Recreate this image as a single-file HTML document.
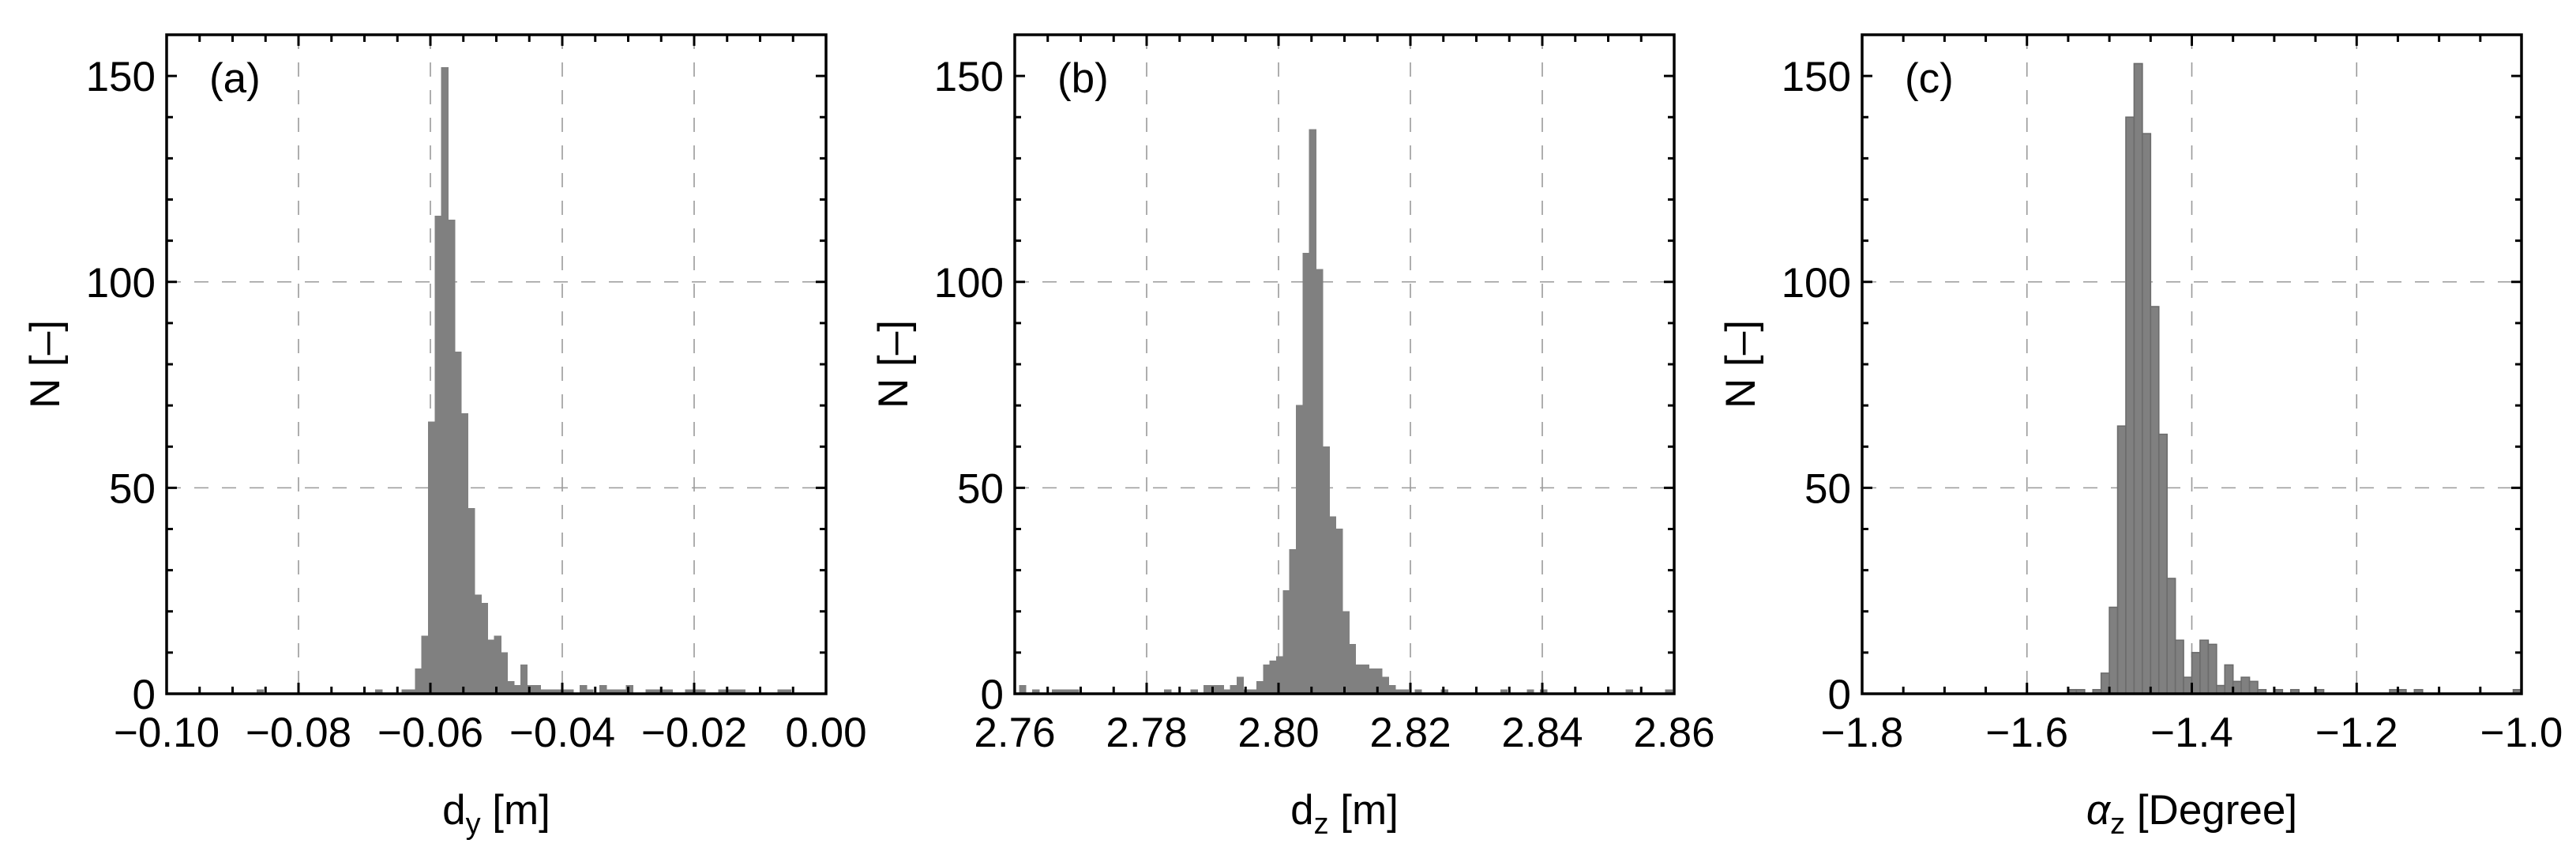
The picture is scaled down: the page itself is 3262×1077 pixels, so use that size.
<!DOCTYPE html>
<html><head><meta charset="utf-8">
<style>
html,body{margin:0;padding:0;background:#fff;}
svg{display:block;font-family:"Liberation Sans",Arial,sans-serif;}
</style></head>
<body>
<svg id="fig" width="3262" height="1077" viewBox="0 0 3262 1077" xmlns="http://www.w3.org/2000/svg"></svg>
<script>
// ---- Panel (a): d_y histogram ----
const aBinStart = -0.0863;
const aBinWidth = 0.001;
const aCounts = [1,0,0,0,0,0,0,0,0,0,0,0,0,0,0,0,0,0,1,0,0,0,1,1,
  6,14,66,116,152,115,83,68,45,24,22,13,14,10,3,2,7,2,2,1,
  1,1,1,1,0,2,1,0,2,1,1,1,2,0,0,1,1,1,1,0,0,1,1,1,0,0,1,1,1,1,0,0,0,0,0,1,1,0];
const aTicks = [-0.10,-0.08,-0.06,-0.04,-0.02,0.00];
const aTickLabels = ["\u22120.10","\u22120.08","\u22120.06","\u22120.04","\u22120.02","0.00"];
// ---- Panel (b): d_z histogram ----
const bBinStart = 2.7607;
const bBinWidth = 0.001;
const bCounts = [2,0,1,0,0,1,1,1,1,0,0,0,0,0,0,0,0,0,0,0,0,0,1,0,0,0,1,0,2,2,2,1,2,4,1,1,3,
  7,8,9,25,35,70,107,137,103,60,43,40,20,12,7,7,6,6,4,2,1,1,0,1,0,0,0,1,0,0,0,0,0,0,0,0,1,
  0,0,0,1,0,1,0,0,0,0,0,0,0,0,0,0,0,0,1,0,0,0,0,0,1];
const bTicks = [2.76,2.78,2.80,2.82,2.84,2.86];
const bTickLabels = ["2.76","2.78","2.80","2.82","2.84","2.86"];
// ---- Panel (c): alpha_z histogram ----
const cBinStart = -1.55;
const cBinWidth = 0.01;
const cCounts = [1,1,0,1,5,21,65,140,153,136,94,63,28,13,4,10,13,12,2,7,3,4,3,1,0,1,0,1,0,0,1,
  0,0,0,0,0,0,0,0,1,1,0,1,0,0,0,0,0,0,0,0,0,0,0,1];
const cTicks = [-1.8,-1.6,-1.4,-1.2,-1.0];
const cTickLabels = ["\u22121.8","\u22121.6","\u22121.4","\u22121.2","\u22121.0"];
// shared y axis
const yTicks = [0,50,100,150];
const yTickLabels = ["0","50","100","150"];

const NS = "http://www.w3.org/2000/svg";
const svg = document.getElementById('fig');
function mk(tag, attrs, parent){
  const e = document.createElementNS(NS, tag);
  for (const k in attrs) e.setAttribute(k, attrs[k]);
  (parent||svg).appendChild(e);
  return e;
}
const TOP = 44, BOT = 878, W = 835, YMAX = 160;

function panel(opts){
  const L = opts.left, R = L + W;
  const xs = v => L + (v - opts.xmin) / (opts.xmax - opts.xmin) * W;
  const ys = c => BOT - c / YMAX * (BOT - TOP);
  const g = mk('g', {});
  
  
  const grid = mk('g', {stroke:'#9a9a9a','stroke-width':1.6,'stroke-dasharray':'18,17',fill:'none'}, g);
  
  
  opts.grid.forEach(v => { mk('line',{x1:xs(v),x2:xs(v),y1:TOP,y2:BOT},grid); });
  [50,100].forEach(v => { mk('line',{x1:L,x2:R,y1:ys(v),y2:ys(v)},grid); });
  const bars = mk('g', {fill:'#808080'}, g);
  
  
  opts.counts.forEach((c, i) => {
    if (c <= 0) return;
    let x0 = xs(opts.start + i * opts.width), x1 = xs(opts.start + (i + 1) * opts.width);
    x0 = Math.max(x0, L); x1 = Math.min(x1, R);
    if (x1 <= x0) return;
    const r = mk('rect', {x:x0, y:ys(c), width:x1-x0, height:BOT-ys(c)}, bars);
    if (opts.outline){ r.setAttribute('stroke','#6c6c6c'); r.setAttribute('stroke-width','1.6'); }
    else { r.setAttribute('stroke','#808080'); r.setAttribute('stroke-width','1'); r.setAttribute('shape-rendering','crispEdges'); }
    
    
  });
  const tk = mk('g', {stroke:'#000','stroke-width':3}, g);
  
  
  const nMinor = Math.round((opts.xmax - opts.xmin) / opts.minor);
  for (let k = 0; k <= nMinor; k++){
    const v = opts.xmin + k * opts.minor;
    const major = Math.abs(((v - opts.xmin) / opts.major) - Math.round((v - opts.xmin) / opts.major)) < 1e-6;
    const len = major ? 14 : 9;
    const x = xs(v);
    mk('line',{x1:x,x2:x,y1:BOT,y2:BOT-len},tk);
    mk('line',{x1:x,x2:x,y1:TOP,y2:TOP+len},tk);
  }
  for (let c = 0; c <= YMAX; c += 10){
    const len = (c % 50 === 0) ? 13 : 8;
    const y = ys(c);
    mk('line',{x1:L,x2:L+len,y1:y,y2:y},tk);
    mk('line',{x1:R,x2:R-len,y1:y,y2:y},tk);
  }
  const fr = mk('rect',{x:L,y:TOP,width:W,height:BOT-TOP,fill:'none',stroke:'#000','stroke-width':3.5},g);
  
  
  opts.ticks.forEach((v, i) => {
    const t = mk('text',{x:xs(v), y:945, 'font-size':53, 'text-anchor':'middle', fill:'#000'}, g);
    t.textContent = opts.tickLabels[i];
    
    
  });
  yTicks.forEach((v, i) => {
    const t = mk('text',{x:L-14, y:ys(v)+19, 'font-size':53, 'text-anchor':'end', fill:'#000'}, g);
    t.textContent = yTickLabels[i];
    
    
  });
  const yt = mk('text',{x:0, y:0, 'font-size':53, 'text-anchor':'middle', fill:'#000',
    transform:`translate(${L-136},${(TOP+BOT)/2}) rotate(-90)`}, g);
  yt.textContent = 'N [\u2013]';
  
  
  const xt = mk('text',{x:L+W/2, y:1043, 'font-size':53, 'text-anchor':'middle', fill:'#000'}, g);
  
  
  opts.xlabel(xt);
  const pl = mk('text',{x:L+54, y:117, 'font-size':53, fill:'#000'}, g);
  pl.textContent = opts.letter;
  
  
}
function sub(el, main, s, italicMain){
  const a = mk('tspan', {}, el); a.textContent = main;
  if (italicMain) a.setAttribute('font-style','italic');
  const b = mk('tspan', {'font-size':38, dy:12}, el); b.textContent = s;
  const c = mk('tspan', {dy:-12}, el); c.textContent = ' [' ;
  return c;
}
panel({name:'panel-a', left:211, xmin:-0.10, xmax:0.0, grid:[-0.08,-0.06,-0.04,-0.02],
  minor:0.005, major:0.02, counts:aCounts, start:aBinStart, width:aBinWidth,
  ticks:aTicks, tickLabels:aTickLabels, letter:'(a)', outline:false,
  xlabel: el => { const c = sub(el,'d','y',false); c.textContent = ' [m]'; }});
panel({name:'panel-b', left:1285, xmin:2.76, xmax:2.86, grid:[2.78,2.80,2.82,2.84],
  minor:0.005, major:0.02, counts:bCounts, start:bBinStart, width:bBinWidth,
  ticks:bTicks, tickLabels:bTickLabels, letter:'(b)', outline:false,
  xlabel: el => { const c = sub(el,'d','z',false); c.textContent = ' [m]'; }});
panel({name:'panel-c', left:2358, xmin:-1.8, xmax:-1.0, grid:[-1.6,-1.4,-1.2],
  minor:0.05, major:0.2, counts:cCounts, start:cBinStart, width:cBinWidth,
  ticks:cTicks, tickLabels:cTickLabels, letter:'(c)', outline:true,
  xlabel: el => { const c = sub(el,'\u03B1','z',true); c.textContent = ' [Degree]'; }});
</script>
</body></html>
